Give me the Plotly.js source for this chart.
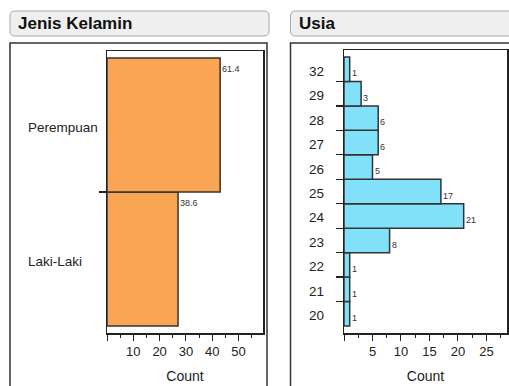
<!DOCTYPE html>
<html><head><meta charset="utf-8">
<script src="https://cdn.plot.ly/plotly-3.0.1.min.js"></script>
<style>html,body{margin:0;padding:0;background:#fff;overflow:hidden}</style>
</head><body><div id="chart" style="width:509px;height:386px"></div>
<script>
// ---- data (listed bottom to top) ----
const genderCategories = ['Laki-Laki', 'Perempuan'];
const genderCounts = [27, 43];
const genderPercents = ['38.6', '61.4'];
const ageCategories = ['20', '21', '22', '23', '24', '25', '26', '27', '28', '29', '32'];
const ageCounts = [1, 1, 1, 8, 21, 17, 5, 6, 6, 3, 1];
const genderTickVals = [0, 10, 20, 30, 40, 50];
const genderTickText = ['', '10', '20', '30', '40', '50'];
const genderMinorVals = [5, 15, 25, 35, 45, 55];
const ageTickVals = [0, 5, 10, 15, 20, 25];
const ageTickText = ['', '5', '10', '15', '20', '25'];
const ageMinorVals = [2.5, 7.5, 12.5, 17.5, 22.5, 27.5];
const panelTitles = ['Jenis Kelamin', 'Usia'];
const axisTitle = 'Count';

// ---- layout helpers ----
const W = 509, H = 386;
const px = v => v / W;
const py = v => 1 - v / H;
function roundRect(x0, y0, x1, y1, r) {
  const X = v => px(v), Y = v => py(v);
  return `M${X(x0 + r)},${Y(y0)} L${X(x1 - r)},${Y(y0)} Q${X(x1)},${Y(y0)} ${X(x1)},${Y(y0 + r)} ` +
    `L${X(x1)},${Y(y1 - r)} Q${X(x1)},${Y(y1)} ${X(x1 - r)},${Y(y1)} L${X(x0 + r)},${Y(y1)} ` +
    `Q${X(x0)},${Y(y1)} ${X(x0)},${Y(y1 - r)} L${X(x0)},${Y(y0 + r)} Q${X(x0)},${Y(y0)} ${X(x0 + r)},${Y(y0)} Z`;
}
const idx = arr => arr.map((_, i) => i);
const bounds = arr => arr.slice(1).map((_, i) => i + 0.5);
function yRange(n, plotH) {
  const ppu = (plotH - 14) / n;
  const pad = 7 / ppu;
  return [-0.5 - pad, n - 0.5 + pad];
}

const INK = '#222';
const FAM = 'Liberation Sans, Arial, sans-serif';
const tickFont = {family: FAM, size: 13, color: INK};

const traces = [
  {
    type: 'bar', orientation: 'h', x: genderCounts, y: idx(genderCategories),
    xaxis: 'x', yaxis: 'y', width: 1,
    marker: {color: '#F9A553', line: {color: '#333', width: 1.5}},
    hoverinfo: 'skip', showlegend: false
  },
  {
    type: 'bar', orientation: 'h', x: ageCounts, y: idx(ageCategories),
    xaxis: 'x2', yaxis: 'y2', width: 1,
    marker: {color: '#80E1F9', line: {color: '#333', width: 1.5}},
    hoverinfo: 'skip', showlegend: false
  }
];

function xAxis(domain, range, tv, tt, mv) {
  return {
    domain: domain, range: range, showgrid: false, zeroline: false,
    showline: true, mirror: true, linecolor: INK, linewidth: 1.5,
    tickmode: 'array', tickvals: tv, ticktext: tt, ticks: 'outside', ticklen: 6,
    tickwidth: 1, tickcolor: INK, tickfont: tickFont,
    minor: {tickmode: 'array', tickvals: mv, ticks: 'outside', ticklen: 3, tickwidth: 1, tickcolor: INK, showgrid: false},
    title: {text: axisTitle, font: {family: FAM, size: 14, color: INK}, standoff: 13},
    fixedrange: true
  };
}
function yAxis(domain, range, bv) {
  return {
    domain: domain, range: range, showgrid: false, zeroline: false,
    showline: true, mirror: true, linecolor: INK, linewidth: 1.5,
    tickmode: 'array', tickvals: bv, ticks: 'outside', ticklen: 7, tickwidth: 1.2, tickcolor: INK,
    showticklabels: false, fixedrange: true
  };
}

const labelFont = {family: FAM, size: 13.5, color: INK};
const valFont = {family: FAM, size: 9, color: '#333'};
const annotations = [];
genderCategories.forEach((c, i) => annotations.push({
  xref: 'paper', yref: 'y', x: px(26), y: i, text: c, showarrow: false,
  xanchor: 'left', yanchor: 'middle', yshift: -2, font: labelFont
}));
ageCategories.forEach((c, i) => annotations.push({
  xref: 'paper', yref: 'y2', x: px(307), y: i, text: c, showarrow: false,
  xanchor: 'left', yanchor: 'middle', yshift: -2, font: labelFont
}));
genderCounts.forEach((v, i) => annotations.push({
  xref: 'x', yref: 'y', x: v, y: i + 0.5, text: genderPercents[i], showarrow: false,
  xanchor: 'left', yanchor: 'top', xshift: 0, yshift: -4, font: valFont
}));
ageCounts.forEach((v, i) => annotations.push({
  xref: 'x2', yref: 'y2', x: v, y: i - 0.5, text: String(v), showarrow: false,
  xanchor: 'left', yanchor: 'bottom', xshift: 0, yshift: 1, font: valFont
}));
annotations.push({
  xref: 'paper', yref: 'paper', x: px(16), y: py(23.5), text: '<b>' + panelTitles[0] + '</b>',
  showarrow: false, xanchor: 'left', yanchor: 'middle', font: {family: FAM, size: 17, color: '#111'}
});
annotations.push({
  xref: 'paper', yref: 'paper', x: px(297), y: py(23.5), text: '<b>' + panelTitles[1] + '</b>',
  showarrow: false, xanchor: 'left', yanchor: 'middle', font: {family: FAM, size: 17, color: '#111'}
});

const shapes = [
  {type: 'path', xref: 'paper', yref: 'paper', path: roundRect(10, 11, 269, 36, 5), fillcolor: '#EFEFEF', line: {color: '#AAAAAA', width: 1}, layer: 'below'},
  {type: 'path', xref: 'paper', yref: 'paper', path: roundRect(290.5, 11, 530, 36, 5), fillcolor: '#EFEFEF', line: {color: '#AAAAAA', width: 1}, layer: 'below'},
  {type: 'rect', xref: 'paper', yref: 'paper', x0: px(10), x1: px(267), y0: py(43), y1: py(400), line: {color: '#333', width: 1.5}, fillcolor: 'rgba(0,0,0,0)', layer: 'below'},
  {type: 'rect', xref: 'paper', yref: 'paper', x0: px(290.5), x1: px(530), y0: py(43), y1: py(400), line: {color: '#333', width: 1.5}, fillcolor: 'rgba(0,0,0,0)', layer: 'below'}
];

const layout = {
  width: W, height: H, margin: {l: 0, r: 0, t: 0, b: 0},
  paper_bgcolor: '#fff', plot_bgcolor: '#fff', barmode: 'overlay', bargap: 0,
  xaxis: xAxis([px(107), px(263)], [0, 59.3], genderTickVals, genderTickText, genderMinorVals),
  yaxis: yAxis([1 - 333 / H, 1 - 51 / H], yRange(genderCategories.length, 282), bounds(genderCategories)),
  xaxis2: xAxis([px(344), px(507)], [0, 28.6], ageTickVals, ageTickText, ageMinorVals),
  yaxis2: yAxis([1 - 333 / H, 1 - 50 / H], yRange(ageCategories.length, 283), bounds(ageCategories)),
  annotations: annotations, shapes: shapes, showlegend: false
};
layout.xaxis.anchor = 'y'; layout.yaxis.anchor = 'x';
layout.xaxis2.anchor = 'y2'; layout.yaxis2.anchor = 'x2';

Plotly.newPlot('chart', traces, layout, {staticPlot: true, displayModeBar: false});
</script></body></html>
